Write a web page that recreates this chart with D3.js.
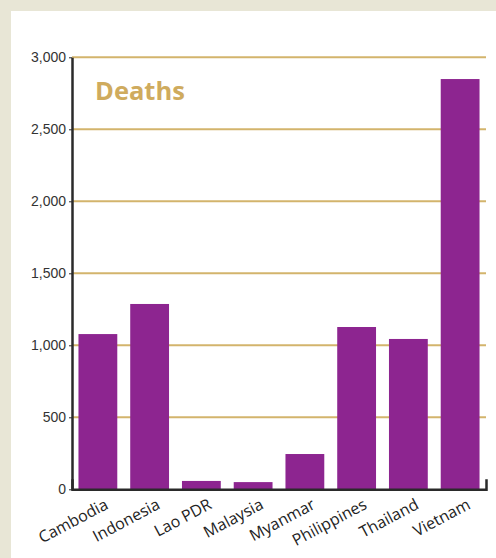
<!DOCTYPE html>
<html><head><meta charset="utf-8">
<script src="https://cdn.jsdelivr.net/npm/d3@7"></script>
<style>
html,body{margin:0;padding:0;background:#e8e6d6;}
svg{display:block;}
</style></head>
<body>
<svg id="chart" width="496" height="558"></svg>
<script>
const categories = ["Cambodia","Indonesia","Lao PDR","Malaysia","Myanmar","Philippines","Thailand","Vietnam"];
const deaths = [1078, 1287, 58, 50, 245, 1127, 1044, 2849];
const yTicks = [0, 500, 1000, 1500, 2000, 2500, 3000];
const title = "Deaths";

(function(){
const svg = d3.select("#chart");
svg.append("rect").attr("x",11).attr("y",11).attr("width",485).attr("height",547).attr("fill","#ffffff");

const mLeft = 72, mRight = 486, mTop = 57.3, mBottom = 489.3;
const x = d3.scaleBand().domain(categories).range([mLeft, mRight]).paddingInner(0.25).paddingOuter(0.125);
const y = d3.scaleLinear().domain([0, 3000]).range([mBottom, mTop]);

// gridlines
svg.append("g").selectAll("line").data(yTicks.filter(d => d > 0)).join("line")
  .attr("x1", mLeft).attr("x2", mRight)
  .attr("y1", d => y(d)).attr("y2", d => y(d))
  .attr("stroke", "#d3b46c").attr("stroke-width", 2);

// bars
svg.append("g").selectAll("rect").data(categories).join("rect")
  .attr("x", d => x(d)).attr("width", x.bandwidth())
  .attr("y", (d,i) => y(deaths[i])).attr("height", (d,i) => mBottom - y(deaths[i]))
  .attr("fill", "#8d2590");

// y axis
const yAxis = svg.append("g").attr("transform", `translate(${mLeft},0)`)
  .call(d3.axisLeft(y).tickValues(yTicks).tickFormat(d3.format(",")).tickSize(3).tickSizeOuter(0));
yAxis.select(".domain").attr("stroke", "#2a2a2a").attr("stroke-width", 2.5);
yAxis.selectAll(".tick line").attr("stroke", "#2a2a2a").attr("stroke-width", 1);
yAxis.selectAll("text").attr("font-family", "'Liberation Sans', Arial, sans-serif")
  .attr("font-size", 14).attr("fill", "#333").attr("x", -6);

// x axis
const xAxis = svg.append("g").attr("transform", `translate(0,${mBottom})`)
  .call(d3.axisBottom(x).tickSize(0).tickSizeOuter(-10));
xAxis.select(".domain").attr("stroke", "#2a2a2a").attr("stroke-width", 2.5);
xAxis.selectAll("text")
  .attr("font-family", "'Open Sans', 'Noto Sans', sans-serif")
  .attr("font-size", 16).attr("fill", "#222")
  .attr("text-anchor", "end")
  .attr("dy", 0)
  .attr("transform", "translate(10,16) rotate(-28)");

// title
svg.append("text").attr("x", 95).attr("y", 100).text(title)
  .attr("font-family", "'Open Sans', 'Noto Sans', sans-serif")
  .attr("font-weight", "bold").attr("font-size", 25.5).attr("fill", "#cfab5e");
})();
</script>
</body></html>
